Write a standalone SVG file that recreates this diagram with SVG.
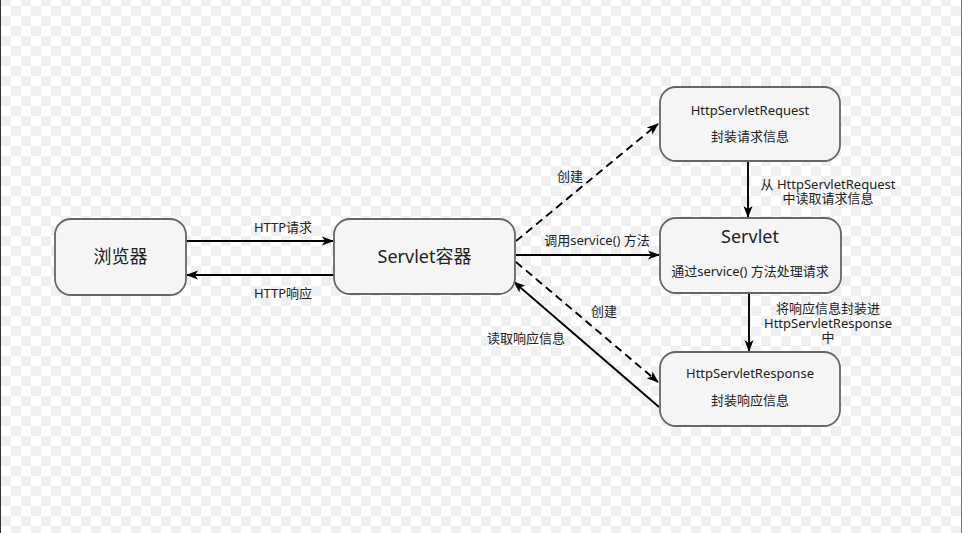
<svg xmlns="http://www.w3.org/2000/svg" width="962" height="533" viewBox="0 0 962 533">
<defs>
<pattern id="chk" x="1" y="-4" width="20" height="20" patternUnits="userSpaceOnUse">
<rect width="20" height="20" fill="#ffffff"/>
<rect width="10" height="10" fill="#efefef"/>
<rect x="10" y="10" width="10" height="10" fill="#efefef"/>
</pattern>
<marker id="ah" viewBox="0 0 12 12" refX="11" refY="6" markerWidth="12" markerHeight="12" markerUnits="userSpaceOnUse" orient="auto">
<path d="M0,1.5 L12,6 L0,10.5 L3,6 Z" fill="#000"/>
</marker>
</defs>
<style>
.node{fill:#f5f5f5;stroke:#666;stroke-width:1.8}
.t{font-family:"Noto Sans","Noto Sans CJK SC",sans-serif;fill:#222;text-anchor:middle;dominant-baseline:central}
.s{font-size:13px}
.b{font-size:18px}
.c{stroke:#000;stroke-width:1.9;fill:none;marker-end:url(#ah)}
.d{stroke-dasharray:8,5}
</style>
<rect width="962" height="533" fill="url(#chk)"/>
<line x1="0.5" y1="0" x2="0.5" y2="533" stroke="#333" stroke-width="1"/>
<line x1="961.5" y1="0" x2="961.5" y2="533" stroke="#777" stroke-width="1"/>

<g id="connectors">
<line class="c" x1="186" y1="241" x2="333" y2="241"/>
<line class="c" x1="334" y1="275" x2="187" y2="275"/>
<line class="c d" x1="516" y1="241" x2="658" y2="124"/>
<line class="c" x1="516" y1="255" x2="659" y2="255"/>
<line class="c d" x1="516" y1="262" x2="658" y2="382"/>
<line class="c" x1="659" y1="407" x2="514" y2="282"/>
<line class="c" x1="748" y1="161" x2="748" y2="217"/>
<line class="c" x1="749" y1="293" x2="749" y2="351"/>
<text class="t s" x="283" y="227">HTTP请求</text>
<text class="t s" x="283" y="293">HTTP响应</text>
<text class="t s" x="570" y="176">创建</text>
<text class="t s" x="597" y="240">调用service() 方法</text>
<text class="t s" x="604" y="311">创建</text>
<text class="t s" x="526" y="338">读取响应信息</text>
<text class="t s" x="828" y="184"><tspan x="828" y="184">从 HttpServletRequest</tspan><tspan x="828" y="198">中读取请求信息</tspan></text>
<text class="t s" x="828" y="308"><tspan x="828" y="308">将响应信息封装进</tspan><tspan x="828" y="323">HttpServletResponse</tspan><tspan x="828" y="337">中</tspan></text>
</g>

<g id="browser">
<rect class="node" x="55" y="219" width="131" height="76" rx="16"/>
<text class="t b" x="120.5" y="256">浏览器</text>
</g>
<g id="container">
<rect class="node" x="334" y="219" width="181" height="75" rx="16"/>
<text class="t b" x="424.5" y="256">Servlet容器</text>
</g>
<g id="request">
<rect class="node" x="660" y="87" width="180" height="74" rx="16"/>
<text class="t s" x="750" y="110">HttpServletRequest</text>
<text class="t s" x="750" y="136">封装请求信息</text>
</g>
<g id="servlet">
<rect class="node" x="660" y="218" width="181" height="75" rx="16"/>
<text class="t b" x="750" y="236">Servlet</text>
<text class="t s" x="750" y="271">通过service() 方法处理请求</text>
</g>
<g id="response">
<rect class="node" x="660" y="352" width="180" height="74" rx="16"/>
<text class="t s" x="750" y="373">HttpServletResponse</text>
<text class="t s" x="750" y="400">封装响应信息</text>
</g>
</svg>
